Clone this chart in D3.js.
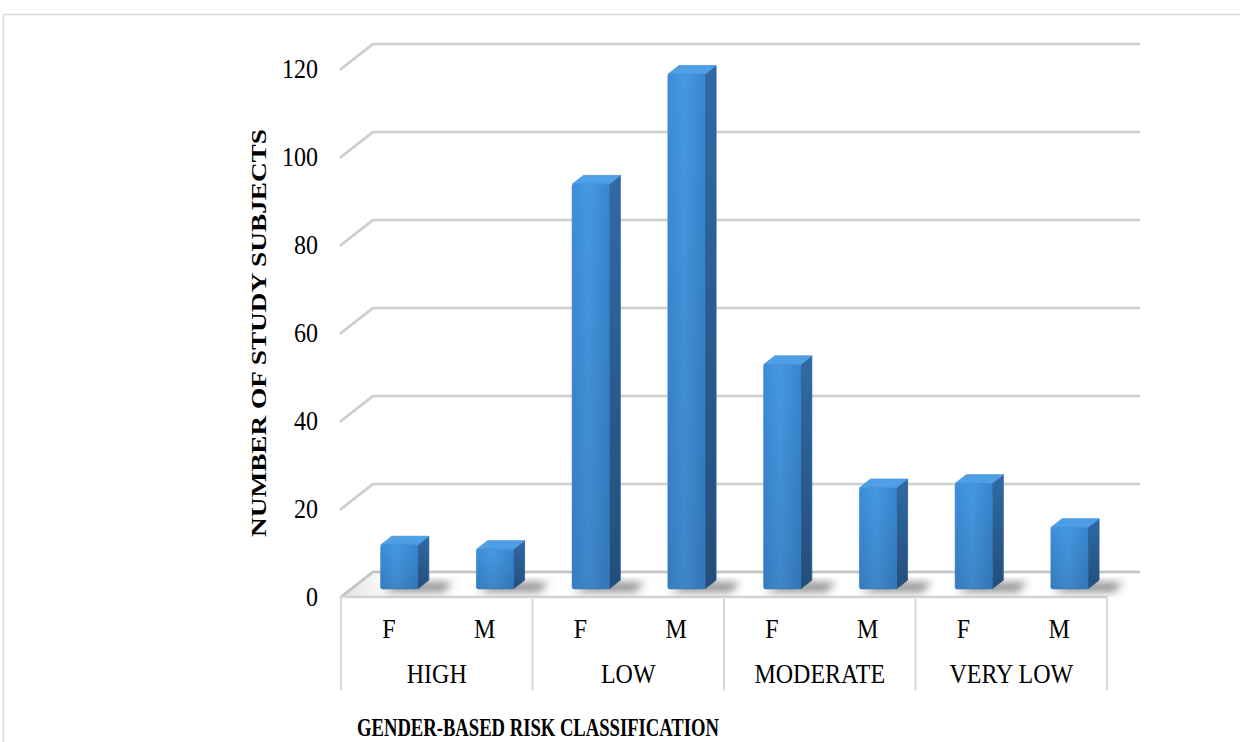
<!DOCTYPE html>
<html>
<head>
<meta charset="utf-8">
<script src="https://cdn.jsdelivr.net/npm/d3@7"></script>
<style>
  html, body { margin: 0; padding: 0; background: #fff; }
  svg { display: block; }
  text { font-family: "Liberation Serif", "Times New Roman", serif; fill: #000; }
</style>
</head>
<body>
<svg id="chart" width="1240" height="742"></svg>
<script>
const groups = ["HIGH", "LOW", "MODERATE", "VERY LOW"];
const genders = ["F", "M"];
const female = [10, 92, 51, 24];
const male = [9, 117, 23, 14];
const yTicks = [0, 20, 40, 60, 80, 100, 120];
const yTitle = "NUMBER OF STUDY SUBJECTS";
const xTitle = "GENDER-BASED RISK CLASSIFICATION";

const data = [];
groups.forEach((g, i) => {
  data.push({ group: g, gender: "F", value: female[i] });
  data.push({ group: g, gender: "M", value: male[i] });
});

const svg = d3.select("#chart");

// outer border
svg.append("rect").attr("x", 3.5).attr("y", 14.5).attr("width", 1240).attr("height", 740)
  .attr("fill", "none").attr("stroke", "#d9d9d9").attr("stroke-width", 1.5);

const x = d3.scaleBand().domain(groups).range([341, 1107]);
const xi = d3.scaleBand().domain(genders).range([0, x.bandwidth()]);
const y = d3.scaleLinear().domain([0, 120]).range([597, 69]);

const depthX = 32, depthY = -25;
const off = d => [depthX * d, depthY * d];

const defs = svg.append("defs");
const gFrontH = defs.append("linearGradient").attr("id", "gFrontH").attr("x1", 0).attr("y1", 0).attr("x2", 1).attr("y2", 0);
gFrontH.append("stop").attr("offset", "0%").attr("stop-color", "#3c8cd8");
gFrontH.append("stop").attr("offset", "45%").attr("stop-color", "#4698e3");
gFrontH.append("stop").attr("offset", "100%").attr("stop-color", "#3885cf");
const gShade = defs.append("linearGradient").attr("id", "gShade").attr("x1", 0).attr("y1", 0).attr("x2", 0).attr("y2", 1);
gShade.append("stop").attr("offset", "0%").attr("stop-color", "#000").attr("stop-opacity", 0);
gShade.append("stop").attr("offset", "100%").attr("stop-color", "#000").attr("stop-opacity", 0.12);
const gSide = defs.append("linearGradient").attr("id", "gSide").attr("x1", 0).attr("y1", 0).attr("x2", 0).attr("y2", 1);
gSide.append("stop").attr("offset", "0%").attr("stop-color", "#306aa5");
gSide.append("stop").attr("offset", "100%").attr("stop-color", "#234e7b");
const blur = defs.append("filter").attr("id", "blur").attr("x", "-50%").attr("y", "-50%").attr("width", "200%").attr("height", "200%");
blur.append("feGaussianBlur").attr("stdDeviation", 4.5);
const gFloor = defs.append("linearGradient").attr("id", "gFloor").attr("x1", 0).attr("y1", 0).attr("x2", 1).attr("y2", 0);
gFloor.append("stop").attr("offset", "0%").attr("stop-color", "#e0e0e0");
gFloor.append("stop").attr("offset", "6%").attr("stop-color", "#ffffff");

// back wall gridlines with left diagonals
const [bx, by] = off(1);
const x0 = x.range()[0], x1 = x.range()[1];
const grid = svg.append("g");
yTicks.forEach(t => {
  const yf = y(t);
  grid.append("path")
    .attr("d", `M${x0},${yf} L${x0 + bx},${yf + by} L${x1 + bx},${yf + by}`)
    .attr("fill", "none").attr("stroke", "#c4c4c4").attr("stroke-width", 2.6)
    .attr("stroke-linecap", "round").attr("stroke-linejoin", "round");
  grid.append("path")
    .attr("d", `M${x0},${yf} L${x0 + bx},${yf + by} L${x1 + bx},${yf + by}`)
    .attr("fill", "none").attr("stroke", "#e2e2e2").attr("stroke-width", 0.8);
});

// floor
svg.append("path")
  .attr("d", `M${x0},${y(0)} L${x0 + bx},${y(0) + by} L${x1 + bx},${y(0) + by} L${x1},${y(0)} Z`)
  .attr("fill", "url(#gFloor)").attr("stroke", "none");
svg.append("path")
  .attr("d", `M${x0},${y(0)} L${x0 + bx},${y(0) + by} L${x1 + bx},${y(0) + by}`)
  .attr("fill", "none").attr("stroke", "#c4c4c4").attr("stroke-width", 2.6).attr("stroke-linejoin", "round");
svg.append("line").attr("x1", x0).attr("x2", x1).attr("y1", y(0)).attr("y2", y(0))
  .attr("stroke", "#d4d4d4").attr("stroke-width", 2.4);

// bars
const d0 = 0.32, d1 = 0.67;
const [fx, fy] = off(d0);
const sdx = depthX * (d1 - d0), sdy = depthY * (d1 - d0);
const barW = 37;

const shadows = svg.append("g").attr("filter", "url(#blur)");
const bars = svg.append("g");
data.forEach(d => {
  const cx = x(d.group) + xi(d.gender) + xi.bandwidth() / 2;
  const left = cx - barW / 2 + fx;
  const right = left + barW;
  const top = y(d.value) + fy;
  const bottom = y(0) + fy;
  // shadow on floor
  shadows.append("path")
    .attr("d", `M${left + 2},${bottom + 3} L${right + 26},${bottom + 3} L${right + sdx + 24},${bottom + sdy + 2} L${left + sdx + 6},${bottom + sdy + 2} Z`)
    .attr("fill", "#6e6e6e").attr("opacity", 0.8);
  // side
  bars.append("path")
    .attr("d", `M${right},${top} L${right + sdx},${top + sdy} L${right + sdx},${bottom + sdy} L${right},${bottom} Z`)
    .attr("fill", "url(#gSide)").attr("stroke", "#2a5d92").attr("stroke-width", 0.8).attr("stroke-linejoin", "round");
  // top
  bars.append("path")
    .attr("d", `M${left},${top} L${right},${top} L${right + sdx},${top + sdy} L${left + sdx},${top + sdy} Z`)
    .attr("fill", "#4f9fe7").attr("stroke", "#4a97de").attr("stroke-width", 0.8).attr("stroke-linejoin", "round");
  // front
  bars.append("rect")
    .attr("x", left).attr("y", top).attr("width", barW).attr("height", bottom - top)
    .attr("rx", 2).attr("fill", "url(#gFrontH)").attr("stroke", "#3a86cf").attr("stroke-width", 0.6);
  bars.append("rect")
    .attr("x", left).attr("y", top).attr("width", barW).attr("height", bottom - top)
    .attr("rx", 2).attr("fill", "url(#gShade)");
});

// category axis box lines
const axisG = svg.append("g");
groups.concat(["__end"]).forEach(g => {
  const xx = g === "__end" ? x1 : x(g);
  axisG.append("line").attr("x1", xx).attr("x2", xx).attr("y1", y(0)).attr("y2", 690)
    .attr("stroke", "#d9d9d9").attr("stroke-width", 2);
});

// helper for vertically stretched text (reference text is taller than normal)
const sy = 1.14;
function stext(px, py, str, size, anchor) {
  return svg.append("text")
    .attr("transform", `translate(${px},${py}) scale(1,${sy})`)
    .attr("text-anchor", anchor || "middle").attr("dominant-baseline", "central")
    .attr("font-size", size).text(str);
}

// sub labels
data.forEach(d => {
  const cx = x(d.group) + xi(d.gender) + xi.bandwidth() / 2;
  stext(cx, 629, d.gender, 24);
});
groups.forEach(g => {
  stext(x(g) + x.bandwidth() / 2, 674, g, 24);
});

// y tick labels
yTicks.forEach(t => {
  stext(318, y(t), t, 24, "end");
});

// axis titles
svg.append("text")
  .attr("transform", "translate(258,333) rotate(-90)")
  .attr("text-anchor", "middle").attr("dominant-baseline", "central")
  .attr("font-size", 22).attr("font-weight", "bold")
  .attr("textLength", 408).attr("lengthAdjust", "spacingAndGlyphs")
  .text(yTitle);
svg.append("text")
  .attr("transform", `translate(538,727) scale(1,${sy})`)
  .attr("text-anchor", "middle").attr("dominant-baseline", "central")
  .attr("font-size", 22).attr("font-weight", "bold")
  .attr("textLength", 362).attr("lengthAdjust", "spacingAndGlyphs")
  .text(xTitle);
</script>
</body>
</html>
